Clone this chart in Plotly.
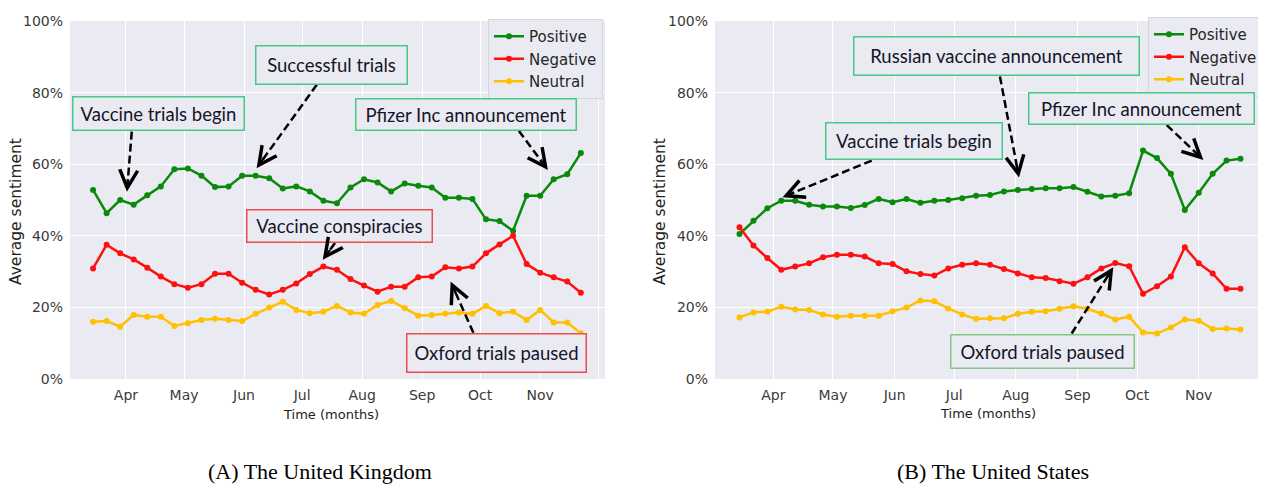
import math
import plotly.graph_objects as go
import pandas as pd

# ---------------- data ----------------
week_start = "2020-03-15"
n_weeks = 37
dates = pd.date_range(week_start, periods=n_weeks, freq="7D")

uk_pos = [52.8, 46.3, 50.0, 48.7, 51.3, 53.8, 58.6, 58.8, 56.8, 53.6, 53.8, 56.8, 56.8, 56.1, 53.2, 53.8, 52.4,
          49.8, 49.1, 53.5, 55.8, 54.9, 52.4, 54.6, 54.0, 53.5, 50.6, 50.6, 50.3, 44.6, 44.1, 41.4, 51.2, 51.2,
          55.8, 57.2, 63.1]
uk_neg = [30.9, 37.5, 35.1, 33.4, 31.1, 28.6, 26.5, 25.5, 26.5, 29.4, 29.4, 26.9, 24.9, 23.6, 24.9, 26.7, 29.3,
          31.4, 30.5, 27.9, 26.1, 24.4, 25.8, 25.8, 28.4, 28.6, 31.2, 30.9, 31.4, 35.1, 37.6, 40.0, 32.1, 29.7,
          28.4, 27.2, 24.1]
uk_neu = [16.0, 16.2, 14.6, 17.9, 17.4, 17.4, 14.8, 15.6, 16.5, 16.8, 16.5, 16.2, 18.2, 20.0, 21.6, 19.3, 18.4,
          18.8, 20.4, 18.6, 18.2, 20.7, 21.8, 19.8, 17.7, 17.9, 18.2, 18.6, 18.2, 20.4, 18.4, 18.8, 16.5, 19.3,
          15.8, 15.8, 12.8]

us_pos = [40.5, 44.2, 47.7, 49.8, 49.8, 48.7, 48.2, 48.2, 47.8, 48.6, 50.3, 49.4, 50.3, 49.2, 49.8, 50.0,
          50.5, 51.2, 51.4, 52.4, 52.8, 53.1, 53.3, 53.3, 53.6, 52.3, 51.0, 51.2, 51.9, 63.8, 61.7, 57.3, 47.2,
          52.0, 57.3, 61.0, 61.5]
us_neg = [42.4, 37.3, 33.8, 30.5, 31.4, 32.3, 34.0, 34.7, 34.7, 34.2, 32.3, 32.1, 30.1, 29.3, 28.9, 30.9,
          31.9, 32.3, 31.9, 30.7, 29.5, 28.4, 28.2, 27.3, 26.6, 28.4, 30.9, 32.4, 31.5, 23.8, 25.9, 28.6, 36.8,
          32.3, 29.5, 25.2, 25.2]
us_neu = [17.2, 18.6, 18.8, 20.2, 19.4, 19.3, 18.0, 17.4, 17.7, 17.7, 17.7, 18.9, 20.0, 21.9, 21.7, 19.7,
          18.0, 16.8, 17.0, 17.0, 18.2, 18.8, 18.9, 19.6, 20.3, 19.6, 18.3, 16.6, 17.4, 13.0, 12.7, 14.4, 16.6,
          16.3, 14.0, 14.1, 13.8]

series_names = ["Positive", "Negative", "Neutral"]
month_ticks = ["2020-04-01", "2020-05-01", "2020-06-01", "2020-07-01", "2020-08-01",
               "2020-09-01", "2020-10-01", "2020-11-01", "2020-12-01"]
month_labels = ["Apr", "May", "Jun", "Jul", "Aug", "Sep", "Oct", "Nov", ""]
y_ticks = [0, 20, 40, 60, 80, 100]
y_labels = ["0%", "20%", "40%", "60%", "80%", "100%"]

# events: (panel, text, box centre date, box centre value, box w, box h, border colour,
#          arrow tail date, tail value, arrow tip date, tip value)
GREEN_B = "#45c987"
RED_B = "#ef4a4f"
OLIVE_B = "#82c882"
events = [
    ("A", "Vaccine trials begin", "2020-04-18", 74.1, 173, 35, GREEN_B, "2020-04-04", 69.1, "2020-04-01 12:00", 52.3),
    ("A", "Successful trials", "2020-07-16", 87.8, 153, 40, GREEN_B, "2020-07-08 14:00", 82.2, "2020-06-07 12:00", 58.9),
    ("A", "Pfizer Inc announcement", "2020-09-23 12:00", 74.0, 222, 33, GREEN_B, "2020-10-21", 69.3, "2020-11-05", 58.4),
    ("A", "Vaccine conspiracies", "2020-07-20 10:00", 42.8, 187, 34, RED_B, "2020-07-18", 38.0, "2020-07-11 16:00", 33.3),
    ("A", "Oxford trials paused", "2020-10-09 14:00", 7.2, 181, 40, RED_B, "2020-09-27 12:00", 12.9, "2020-09-15 18:00", 27.2),
    ("B", "Russian vaccine announcement", "2020-07-22 10:00", 90.1, 287, 40, GREEN_B, "2020-07-24", 84.5, "2020-08-02 14:00", 56.3),
    ("B", "Vaccine trials begin", "2020-06-11", 66.6, 178, 38, GREEN_B, "2020-05-20 12:00", 61.0, "2020-04-05 16:00", 50.8),
    ("B", "Pfizer Inc announcement", "2020-10-03 08:00", 75.6, 227, 33, GREEN_B, "2020-10-15 22:00", 70.9, "2020-11-03 08:00", 61.2),
    ("B", "Oxford trials paused", "2020-08-14 08:00", 7.7, 185, 35, OLIVE_B, "2020-08-29 02:00", 12.7, "2020-09-19", 31.2),
]

# ---------------- layout geometry ----------------
OFF = 8                      # default page margin of the html body
W, H = 1266 - OFF, 484 - OFF


def gx(p):                   # window pixel -> paper x
    return (p - OFF) / W


def gy(p):                   # window pixel -> paper y
    return 1 - (p - OFF) / H


colors = ["#0a8a0a", "#ff1010", "#ffc000"]
TICK_FONT = dict(family="DejaVu Sans", size=14, color="#3a3a3a")
BOX_FONT = dict(family="Lato, DejaVu Sans Condensed, sans-serif", size=18.5, color="#15152a")
BG = "#EAEAF2"

xdomA = [gx(70), gx(605)]
xdomB = [gx(715), min(1.0, gx(1265))]
ydom = [gy(379), gy(21)]
xrangeA = ["2020-03-03 02:00", "2020-12-04 12:00"]
xrangeB = ["2020-03-02 16:00", "2020-12-04 08:00"]

fig = go.Figure()
for name, col, uk, us in zip(series_names, colors, [uk_pos, uk_neg, uk_neu], [us_pos, us_neg, us_neu]):
    fig.add_trace(go.Scatter(x=dates, y=uk, mode="lines+markers", name=name,
                             line=dict(color=col, width=2.5), marker=dict(size=6, color=col),
                             xaxis="x", yaxis="y", legend="legend"))
    fig.add_trace(go.Scatter(x=dates, y=us, mode="lines+markers", name=name,
                             line=dict(color=col, width=2.5), marker=dict(size=6, color=col),
                             xaxis="x2", yaxis="y2", legend="legend2"))

xcommon = dict(type="date", tickvals=month_ticks, ticktext=month_labels, showgrid=True, gridcolor="white",
               gridwidth=1, zeroline=False, showline=False, ticks="", tickfont=TICK_FONT, ticklabelstandoff=6,
               automargin=False)
ycommon = dict(range=[0, 100], tickvals=y_ticks, ticktext=y_labels, showgrid=True, gridcolor="white",
               gridwidth=1, zeroline=False, showline=False, ticks="", tickfont=TICK_FONT, ticklabelstandoff=6,
               automargin=False)

legend_common = dict(xanchor="right", yanchor="top", bgcolor=BG, bordercolor="#d6d6de", borderwidth=1,
                     font=dict(family="DejaVu Sans", size=15, color="#262626"), itemwidth=30, tracegroupgap=0)
fig.update_layout(
    width=W, height=H, margin=dict(l=0, r=0, t=0, b=0, autoexpand=False),
    paper_bgcolor="white", plot_bgcolor=BG, showlegend=True,
    xaxis=dict(domain=xdomA, anchor="y", range=xrangeA, **xcommon),
    yaxis=dict(domain=ydom, anchor="x", **ycommon),
    xaxis2=dict(domain=xdomB, anchor="y2", range=xrangeB, **xcommon),
    yaxis2=dict(domain=ydom, anchor="x2", **ycommon),
    legend=dict(x=gx(603), y=gy(19), **legend_common),
    legend2=dict(x=gx(1263), y=gy(17), **legend_common),
)


# pixel scale of each panel (used only to size arrow heads)
def scale(xdom, xrange):
    days = (pd.Timestamp(xrange[1]) - pd.Timestamp(xrange[0])).total_seconds() / 86400
    return (xdom[1] - xdom[0]) * W / days, (ydom[1] - ydom[0]) * H / 100


scales = {"A": scale(xdomA, xrangeA), "B": scale(xdomB, xrangeB)}

annotations = []
shapes = []
for panel, text, bx, by, bw, bh, bcol, tx, ty, px_, py_ in events:
    xr, yr = ("x", "y") if panel == "A" else ("x2", "y2")
    annotations.append(dict(xref=xr, yref=yr, x=bx, y=by, text=text, showarrow=False, font=BOX_FONT,
                            bordercolor=bcol, borderwidth=1.5, borderpad=0, bgcolor=BG,
                            width=bw - 3, height=bh - 3, align="center", valign="middle",
                            xanchor="center", yanchor="middle"))
    t0, t1 = pd.Timestamp(tx), pd.Timestamp(px_)
    sx, sy = scales[panel]
    plen = math.hypot((t1 - t0).total_seconds() / 86400 * sx, (py_ - ty) * sy)
    f_head = 1 - 13 / plen
    f_line = 1 - 10 / plen
    mid_line = t0 + (t1 - t0) * f_line
    mid_head = t0 + (t1 - t0) * f_head
    shapes.append(dict(type="line", xref=xr, yref=yr, x0=t0, y0=ty, x1=mid_line, y1=ty + (py_ - ty) * f_line,
                       line=dict(color="black", width=2.5, dash="8px,4px"), layer="above"))
    annotations.append(dict(xref=xr, yref=yr, x=t1, y=py_, axref=xr, ayref=yr, ax=mid_head,
                            ay=ty + (py_ - ty) * f_head, text="", showarrow=True, arrowhead=5,
                            arrowsize=1.6, arrowwidth=2.2, arrowcolor="black", standoff=0,
                            font=dict(size=1), borderpad=0))

# axis titles and captions
AX_FONT = dict(family="DejaVu Sans", size=13, color="#222")
YT_FONT = dict(family="DejaVu Sans", size=15.5, color="#222")
CAP_FONT = dict(family="Liberation Serif", size=22, color="black")
annotations += [
    dict(xref="paper", yref="paper", x=gx(331), y=gy(414), text="Time (months)", showarrow=False,
         font=AX_FONT, xanchor="center", yanchor="middle"),
    dict(xref="paper", yref="paper", x=gx(988), y=gy(413), text="Time (months)", showarrow=False,
         font=AX_FONT, xanchor="center", yanchor="middle"),
    dict(xref="paper", yref="paper", x=gx(16), y=gy(212), text="Average sentiment", textangle=-90,
         showarrow=False, font=YT_FONT, xanchor="center", yanchor="middle"),
    dict(xref="paper", yref="paper", x=gx(660), y=gy(212), text="Average sentiment", textangle=-90,
         showarrow=False, font=YT_FONT, xanchor="center", yanchor="middle"),
    dict(xref="paper", yref="paper", x=gx(320), y=gy(471), text="(A) The United Kingdom", showarrow=False,
         font=CAP_FONT, xanchor="center", yanchor="middle"),
    dict(xref="paper", yref="paper", x=gx(993), y=gy(471), text="(B) The United States", showarrow=False,
         font=CAP_FONT, xanchor="center", yanchor="middle"),
]
fig.update_layout(annotations=annotations, shapes=shapes)

fig.write_html("out.html")
